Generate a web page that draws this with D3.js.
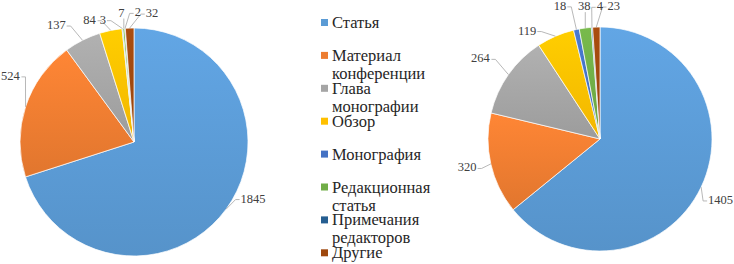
<!DOCTYPE html>
<html>
<head>
<meta charset="utf-8">
<script src="https://cdn.jsdelivr.net/npm/d3@7"></script>
<style>
  body { margin: 0; background: #fff; }
  svg { display: block; }
</style>
</head>
<body>
<svg id="chart"></svg>
<script>
// data
var categories = ['Статья', 'Материал конференции', 'Глава монографии', 'Обзор',
                  'Монография', 'Редакционная статья', 'Примечания редакторов', 'Другие'];
var leftValues = [1845, 524, 137, 84, 3, 7, 2, 32];
var rightValues = [1405, 320, 264, 119, 18, 38, 4, 23];
var colors = ['#5b9bd5', '#ed7d31', '#a5a5a5', '#ffc000', '#4472c4', '#70ad47', '#255e91', '#9e480e'];

// label nudges (px) from the default spot just outside the rim
var leftNudge = [[14,-20],[0,-26],[-19,-1],[-18,5],[-18,7],[-1,0],[14,0],[23,1]];
var rightNudge = [[5,6],[-8,0],[-15,-7],[-22,9],[-13,-8],[1,-6],[9,-5],[18,-5]];

var FONT = 'Liberation Serif';
var width = 734, height = 264;
var svg = d3.select('#chart').attr('width', width).attr('height', height);

var defs = svg.append('defs');
colors.forEach(function(c, i) {
  var g = defs.append('linearGradient')
    .attr('id', 'grad' + i)
    .attr('x1', 0).attr('y1', 0).attr('x2', 0).attr('y2', 1);
  g.append('stop').attr('offset', '0%').attr('stop-color', d3.color(c).brighter(0.2));
  g.append('stop').attr('offset', '100%').attr('stop-color', d3.color(c).darker(0.15));
});

var pie = d3.pie().sort(null).value(function(d) { return d; });

function drawPie(values, cx, cy, r, nudge) {
  var g = svg.append('g').attr('transform', 'translate(' + cx + ',' + cy + ')');
  var arcs = pie(values);
  var arc = d3.arc().innerRadius(0).outerRadius(r);
  var rim = d3.arc().innerRadius(r).outerRadius(r);
  var outer = d3.arc().innerRadius(r + 16).outerRadius(r + 16);

  g.selectAll('path.slice')
    .data(arcs)
    .enter().append('path')
    .attr('class', 'slice')
    .attr('d', arc)
    .attr('fill', function(d, i) { return 'url(#grad' + i + ')'; })
    .attr('stroke', '#fff')
    .attr('stroke-width', 0.7);

  var labels = g.selectAll('text.lbl')
    .data(arcs)
    .enter().append('text')
    .attr('class', 'lbl')
    .attr('x', function(d, i) { return outer.centroid(d)[0] + nudge[i][0]; })
    .attr('y', function(d, i) { return outer.centroid(d)[1] + nudge[i][1]; })
    .attr('text-anchor', 'middle')
    .attr('dominant-baseline', 'central')
    .attr('font-family', FONT)
    .attr('font-size', 12.5)
    .attr('fill', '#404040')
    .text(function(d) { return d.data; });

  // leader lines from the rim to the nearest edge of each label
  labels.each(function(d) {
    var b = this.getBBox();
    var p = rim.centroid(d);
    var x0 = b.x - 1, x1 = b.x + b.width + 1, y0 = b.y + 2, y1 = b.y + b.height - 1;
    var qx = Math.max(x0, Math.min(p[0], x1));
    var qy = Math.max(y0, Math.min(p[1], y1));
    var pts;
    if (qx === x0 || qx === x1) {
      var ym = b.y + b.height / 2 + 1;
      var stub = qx === x0 ? qx - 4 : qx + 4;
      pts = [[qx, ym], [stub, ym], p];
    } else {
      pts = [[qx, qy], p];
    }
    if (Math.hypot(p[0] - qx, p[1] - qy) < 3) return;
    g.insert('path', 'text')
      .attr('d', d3.line()(pts))
      .attr('fill', 'none')
      .attr('stroke', '#a6a6a6')
      .attr('stroke-width', 0.8);
  });
}

drawPie(leftValues, 134, 142, 114, leftNudge);
drawPie(rightValues, 600, 139, 112, rightNudge);

// legend
var legend = svg.append('g').attr('class', 'legend');
var legendStep = 32.9, legendTop = 28;
categories.forEach(function(name, i) {
  var y = legendTop + legendStep * i;
  legend.append('rect')
    .attr('x', 321).attr('y', y - 9)
    .attr('width', 7).attr('height', 7)
    .attr('fill', colors[i]);
  var t = legend.append('text')
    .attr('x', 332).attr('y', y)
    .attr('font-family', FONT)
    .attr('font-size', 16.5)
    .attr('fill', '#262626')
    .text(name);
  wrap(t, 100);
});

function wrap(text, maxWidth) {
  var words = text.text().split(/\s+/).reverse(),
      word, line = [],
      x = text.attr('x'), y = text.attr('y'),
      tspan = text.text(null).append('tspan').attr('x', x).attr('y', y);
  while (word = words.pop()) {
    line.push(word);
    tspan.text(line.join(' '));
    if (tspan.node().getComputedTextLength() > maxWidth && line.length > 1) {
      line.pop();
      tspan.text(line.join(' '));
      line = [word];
      tspan = text.append('tspan').attr('x', x).attr('dy', '18px').text(word);
    }
  }
}
</script>
</body>
</html>
